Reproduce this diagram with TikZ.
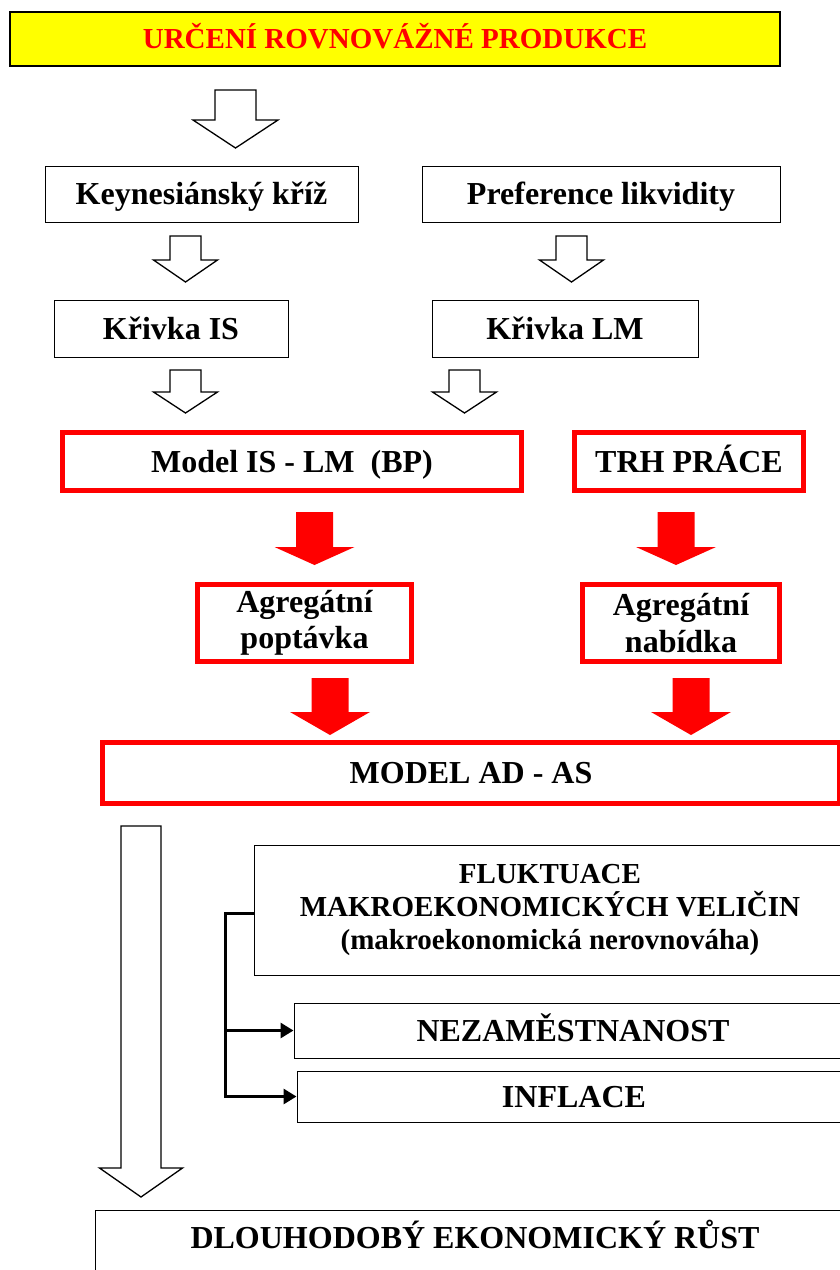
\documentclass[tikz,border=0pt]{standalone}
\usepackage{fontspec}
\setmainfont{Liberation Serif}
\usetikzlibrary{arrows.meta}
\definecolor{ttlyellow}{RGB}{255,255,0}
\definecolor{ttlred}{RGB}{255,0,0}
\newcommand\blockarrow[7]{% style, cx, top, headtop, tip, shaft hw, head hw
  \draw[#1] (#2-#6,#3) -- (#2+#6,#3) -- (#2+#6,#4) -- (#2+#7,#4) -- (#2,#5)
    -- (#2-#7,#4) -- (#2-#6,#4) -- cycle;}
\begin{document}
\begin{tikzpicture}[x=1pt,y=-1pt,
  box/.style={draw=black, line width=1pt, fill=white, inner sep=0pt, align=center,
    font=\bfseries\fontsize{32}{36.5}\selectfont},
  oneline/.style={text height=21.5pt, text depth=0pt},
  redbox/.style={box, draw=ttlred, line width=5pt},
  hollow/.style={draw=black, line width=1.3pt, fill=white, line join=miter},
  solidred/.style={fill=ttlred, draw=none},
  bracket/.style={line width=3pt, line join=miter, -{Triangle[length=13pt,width=15pt]}}
]
\useasboundingbox[fill=white] (0,0) rectangle (840,1270);

% title
\node[box, oneline, fill=ttlyellow, line width=1.3pt, minimum width=770, minimum height=54,
  text=ttlred, font=\bfseries\fontsize{29}{31}\selectfont, text height=19.5pt] (title) at (395,39)
  {URČENÍ ROVNOVÁŽNÉ PRODUKCE};

\blockarrow{hollow}{235.5}{90}{120}{148}{20.5}{42.5}

\node[box, oneline, minimum width=313, minimum height=56] (kk) at (201.5,194) {Keynesiánský kříž};
\node[box, oneline, minimum width=358, minimum height=56] (pl) at (601,194) {Preference likvidity};

\blockarrow{hollow}{185.5}{236}{260}{282}{15.5}{32}
\blockarrow{hollow}{571.5}{236}{260}{282}{15.5}{32}

\node[box, oneline, minimum width=234, minimum height=57] (kis) at (171,328.5) {Křivka IS};
\node[box, oneline, minimum width=266, minimum height=57] (klm) at (565,328.5) {Křivka LM};

\blockarrow{hollow}{185.5}{370}{392}{413}{15.5}{32}
\blockarrow{hollow}{464.5}{370}{392}{413}{15.5}{32}

\node[redbox, oneline, minimum width=459, minimum height=58] (islm) at (292,461.5) {Model IS - LM\ \ (BP)};
\node[redbox, oneline, minimum width=229, minimum height=58] (trh) at (689,461.5) {TRH PRÁCE};

\blockarrow{solidred}{314.5}{512}{547}{565}{18.5}{40}
\blockarrow{solidred}{676}{512}{547}{565}{18.5}{40}

\node[redbox, minimum width=214, minimum height=77] (ad) at (304.5,623) {Agregátní\\poptávka};
\node[redbox, minimum width=197, minimum height=77] (as) at (681,623) {Agregátní\\nabídka};

\blockarrow{solidred}{330}{678}{712}{735}{18.5}{40}
\blockarrow{solidred}{691}{678}{712}{735}{18.5}{40}

\node[redbox, oneline, minimum width=737, minimum height=61] (adas) at (471,773) {MODEL AD - AS};

\blockarrow{hollow}{141}{826}{1168}{1197}{20}{41.5}

\node[box, minimum width=592, minimum height=130, font=\bfseries\fontsize{29}{33}\selectfont]
  (flu) at (550,910) {FLUKTUACE\\MAKROEKONOMICKÝCH VELIČIN\\(makroekonomická nerovnováha)};
\node[box, oneline, minimum width=558, minimum height=55] (nez) at (573,1030.5) {NEZAMĚSTNANOST};
\node[box, oneline, minimum width=554, minimum height=51] (inf) at (574,1096.5) {INFLACE};

\node[box, anchor=north, minimum width=760, minimum height=120,
  label={[anchor=center, yshift=-28pt, text height=21.5pt, text depth=0pt,
    font=\bfseries\fontsize{32}{34}\selectfont]north:DLOUHODOBÝ EKONOMICKÝ RŮST}]
  (dlo) at (475,1210) {};

\coordinate (bt) at (225,913);
\coordinate (bb) at (225,1096.5);
\draw[bracket] (flu.west |- bt) -- (bt) -- (bb) -- (inf.west);
\draw[bracket] (bt |- nez.west) -- (nez.west);
\end{tikzpicture}
\end{document}
